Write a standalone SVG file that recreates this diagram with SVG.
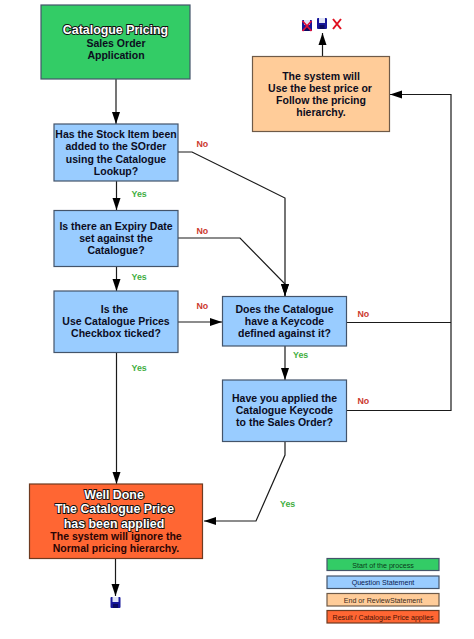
<svg xmlns="http://www.w3.org/2000/svg" width="474" height="639" viewBox="0 0 474 639">
<style>
text{font-family:"Liberation Sans",Arial,sans-serif;font-weight:bold;text-anchor:middle;fill:#0c0c1e}
.b{stroke:#44546a;stroke-width:1.2}
.t{font-size:10.5px}
.w{font-size:12.4px;fill:#fff;stroke:#111;stroke-width:1.8px;paint-order:stroke fill;font-weight:bold}
.l{font-size:8.8px;text-anchor:start}
.no{fill:#cc3a2e}.yes{fill:#3fae3f}
.k{font-size:7.1px;font-weight:normal;stroke:none}
.c{fill:none;stroke:#1a1a1a;stroke-width:1.2;marker-end:url(#a)}
.n{fill:none;stroke:#1a1a1a;stroke-width:1.2}
</style>
<defs>
<marker id="a" markerUnits="userSpaceOnUse" markerWidth="13" markerHeight="10" refX="12" refY="5" orient="auto"><path d="M0,1L12,5L0,9Z" fill="#000"/></marker>
<g id="disk"><rect width="10" height="11" fill="#16169a" rx="1"/><rect x="2" width="6" height="5" fill="#dfe3f5"/><rect x="2.500" y="7" width="5" height="4" fill="#0a0a60"/></g>
</defs>
<rect width="474" height="639" fill="#fff"/>
<g id="connectors">
<path class="c" d="M116,79V124"/>
<path class="c" d="M116.500,181V210"/>
<path class="c" d="M116.500,266V291"/>
<path class="c" d="M116.500,352V484"/>
<path class="c" d="M178,322H222"/>
<path class="c" d="M178,152H192L285,198V296"/>
<path class="c" d="M178,238H240L285,284V296"/>
<path class="c" d="M285,346V380"/>
<path class="n" d="M346.500,322.500H451"/>
<path class="c" d="M346.500,410.500H451V94.500H390"/>
<path class="c" d="M285,441V455L256,521H204"/>
<path class="c" d="M322.500,56V33"/>
<path class="c" d="M115.500,558V596"/>
</g>
<g id="start"><rect class="b" x="41" y="5" width="149" height="74" fill="#33cc66"/>
<text class="w" x="115.500" y="34">Catalogue Pricing</text><text class="t" x="116" y="47">Sales Order</text><text class="t" x="116" y="59">Application</text></g>
<g id="q1"><rect class="b" x="54" y="124" width="124" height="57" fill="#99ccff"/>
<text class="t" x="116" y="138">Has the Stock Item been</text><text class="t" x="116" y="150">added to the SOrder</text><text class="t" x="116" y="162.500">using the Catalogue</text><text class="t" x="116" y="174.500">Lookup?</text></g>
<g id="q2"><rect class="b" x="54" y="210.500" width="124" height="56" fill="#99ccff"/>
<text class="t" x="116" y="229.500">Is there an Expiry Date</text><text class="t" x="116" y="241.500">set against the</text><text class="t" x="116" y="253.500">Catalogue?</text></g>
<g id="q3"><rect class="b" x="54" y="291" width="124" height="61.500" fill="#99ccff"/>
<text class="t" x="114.500" y="313">Is the</text><text class="t" x="116" y="325">Use Catalogue Prices</text><text class="t" x="116" y="337">Checkbox ticked?</text></g>
<g id="q4"><rect class="b" x="222.500" y="296.500" width="124" height="49.500" fill="#99ccff"/>
<text class="t" x="284.500" y="313">Does the Catalogue</text><text class="t" x="284.500" y="325">have a Keycode</text><text class="t" x="284.500" y="337">defined against it?</text></g>
<g id="q5"><rect class="b" x="222.500" y="380" width="124" height="61.500" fill="#99ccff"/>
<text class="t" x="284.500" y="402">Have you applied the</text><text class="t" x="284.500" y="414">Catalogue Keycode</text><text class="t" x="284.500" y="426">to the Sales Order?</text></g>
<g id="review"><rect x="252.500" y="56.500" width="137" height="75" fill="#ffcc99" stroke="#6e5a48" stroke-width="1.200"/>
<text class="t" x="321" y="80">The system will</text><text class="t" x="320" y="92">Use the best price or</text><text class="t" x="321" y="104">Follow the pricing</text><text class="t" x="321" y="116">hierarchy.</text></g>
<g id="result"><rect x="29.500" y="484" width="173" height="74.500" fill="#ff6633" stroke="#6e3a20" stroke-width="1.200"/>
<text class="w" x="114" y="499">Well Done</text><text class="w" x="114.500" y="513">The Catalogue Price</text><text class="w" x="114" y="527.500">has been applied</text>
<text class="t" x="116" y="540" style="fill:#2a0505">The system will ignore the</text><text class="t" x="116" y="552" style="fill:#2a0505">Normal pricing hierarchy.</text></g>
<g id="labels">
<text class="l no" x="196.500" y="147">No</text><text class="l no" x="196.500" y="234">No</text><text class="l no" x="196.500" y="309">No</text><text class="l no" x="357.500" y="317">No</text><text class="l no" x="357.500" y="404">No</text>
<text class="l yes" x="131.500" y="197">Yes</text><text class="l yes" x="131.500" y="280">Yes</text><text class="l yes" x="131.500" y="371">Yes</text><text class="l yes" x="293" y="358">Yes</text><text class="l yes" x="280" y="507">Yes</text>
</g>
<g id="end-icons">
<use href="#disk" x="302" y="20"/><path d="M302.500,21L311.500,31M311.500,21L302.500,31" stroke="#e0103a" stroke-width="1.800"/>
<use href="#disk" x="317" y="18"/>
<path d="M333,19L341,29M341,19L333,29" stroke="#e01020" stroke-width="2" fill="none"/>
<use href="#disk" x="110.500" y="597"/>
</g>
<g id="legend">
<g id="legend-start"><rect class="b" x="327" y="558.500" width="112" height="12" fill="#33cc66"/><text class="k" x="383" y="567.500" style="fill:#0a3a1a">Start of the process</text></g>
<g id="legend-question"><rect class="b" x="327" y="576" width="112" height="12.500" fill="#99ccff"/><text class="k" x="383" y="585" style="fill:#0a1a50">Question Statement</text></g>
<g id="legend-end"><rect x="327" y="593.500" width="112" height="12.500" fill="#ffcc99" stroke="#6e5a48" stroke-width="1.200"/><text class="k" x="383" y="602.500" style="fill:#3a2a1a">End or ReviewStatement</text></g>
<g id="legend-result"><rect x="327" y="610.500" width="112" height="12.500" fill="#ff6633" stroke="#6e3a20" stroke-width="1.200"/><text class="k" x="383" y="619.500" style="fill:#4a1205">Result / Catalogue Price applies</text></g>
</g>
</svg>
